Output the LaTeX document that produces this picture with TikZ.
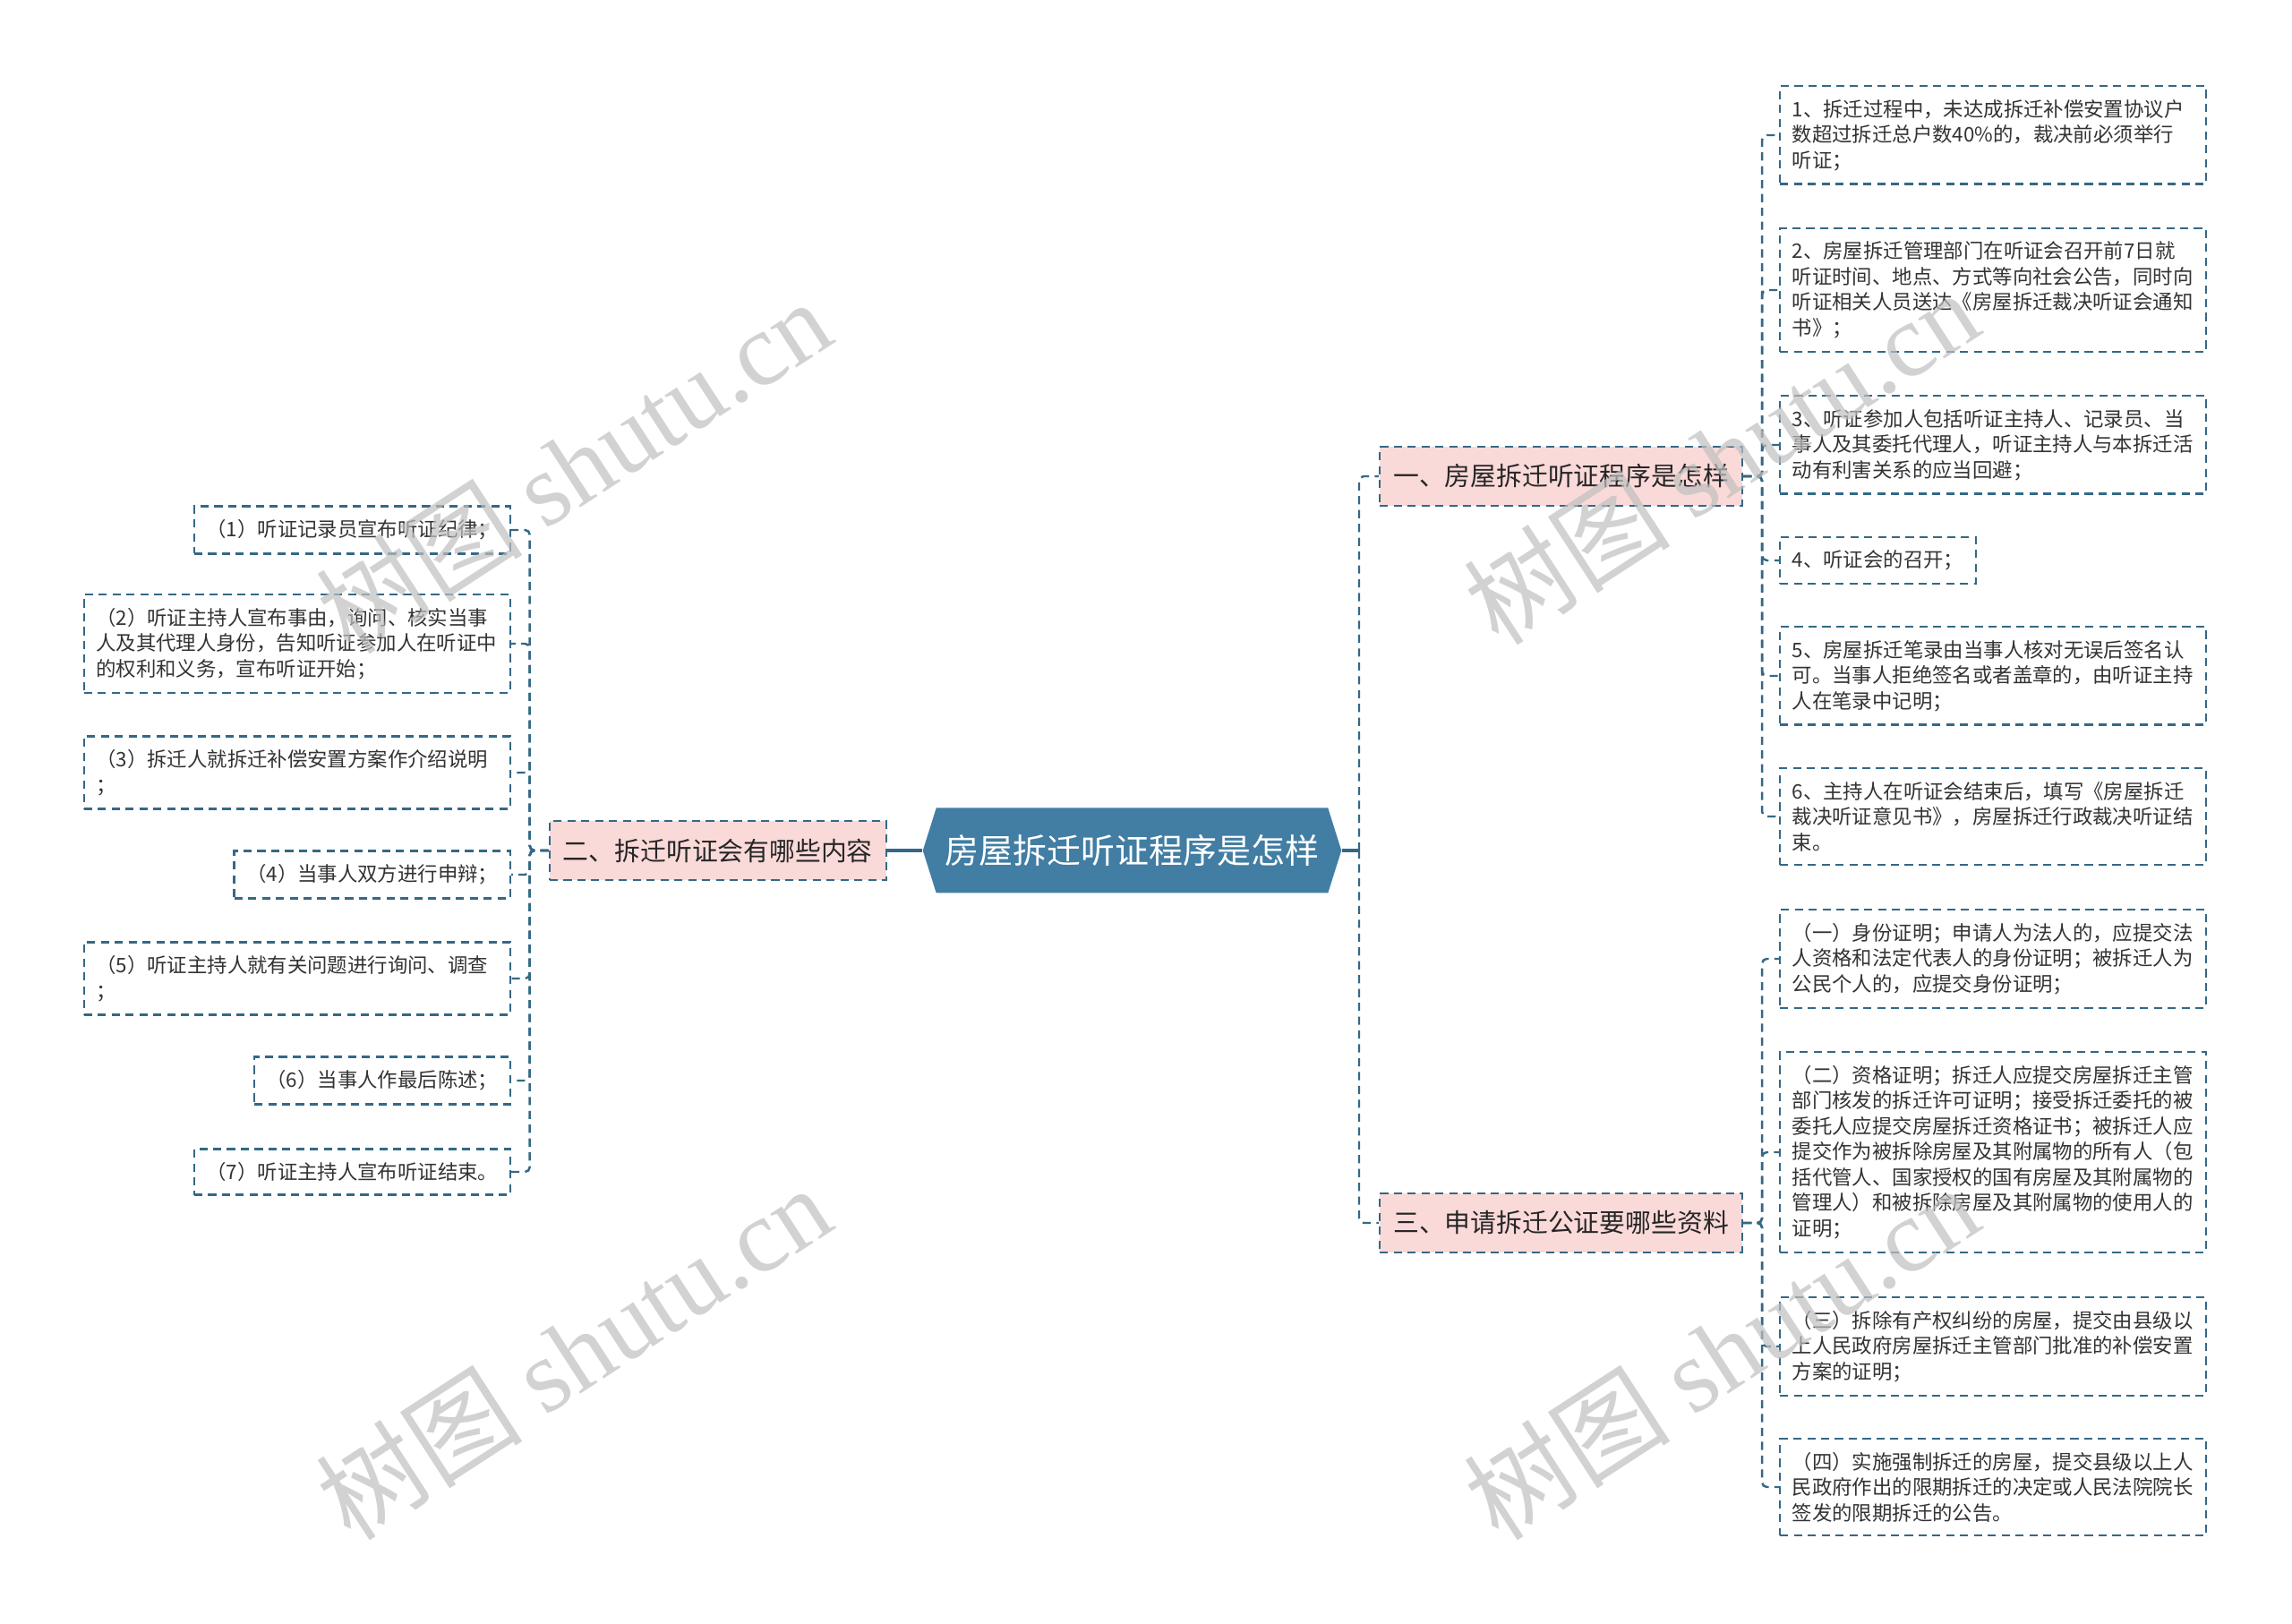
\documentclass[tikz,border=0pt]{standalone}
\usepackage{xcolor}
\usepackage{fontspec}
\setmainfont{Noto Sans CJK SC}
\newfontfamily\wmfont{Liberation Serif}
\usepackage{tikz}
\usetikzlibrary{positioning,shapes.symbols}

\definecolor{rootblue}{RGB}{66,126,163}
\definecolor{linkblue}{RGB}{52,104,134}
\definecolor{topicpink}{RGB}{250,218,217}
\definecolor{leaftext}{RGB}{51,51,51}

\begin{document}
\begin{tikzpicture}[
  rootbox/.style={signal, signal to=west and east, signal pointer angle=145,
                  fill=rootblue, text=white, minimum height=0.95cm,
                  minimum width=4.65cm, inner xsep=0.1cm,
                  font=\fontsize{10.8pt}{13pt}\selectfont},
  topic/.style={draw=linkblue, line width=0.7pt, dash pattern=on 2.6pt off 1.8pt,
                fill=topicpink, text=black!85, minimum height=0.66cm,
                inner xsep=0.15cm, font=\fontsize{8.2pt}{10pt}\selectfont},
  leaf/.style={draw=linkblue, line width=0.7pt, dash pattern=on 2.6pt off 1.8pt,
               fill=white, text=leaftext, align=left, inner xsep=0.135cm,
               inner ysep=0.15cm, font=\fontsize{6.37pt}{8.1pt}\selectfont},
  wideleaf/.style={leaf, text width=4.49cm},
  link/.style={draw=linkblue, line width=0.7pt, dash pattern=on 2.6pt off 1.8pt,
               rounded corners=1.5pt},
  trunk/.style={draw=linkblue, line width=1.2pt},
  wmark/.style={text=black!25, text opacity=0.7, rotate=33,
                font=\fontsize{33pt}{33pt}\selectfont}
]
\useasboundingbox (0,0) rectangle (25.6,-18.14);

% ---- Column positions ----
\def\xL{5.71}    % left leaves (east edge)
\def\xT{9.91}    % left topic (east edge)
\def\xC{12.645}  % root
\def\xU{15.40}   % right topics (west edge)
\def\xR{19.87}   % right leaves (west edge)

% ---- Root ----
\node[rootbox] (root) at (\xC,-9.50) {房屋拆迁听证程序是怎样};

% ---- Topics ----
\node[topic, anchor=east] (t2) at (\xT,-9.50) {二、拆迁听证会有哪些内容};
\node[topic, anchor=west] (t1) at (\xU,-5.32) {一、房屋拆迁听证程序是怎样};
\node[topic, anchor=west] (t3) at (\xU,-13.66) {三、申请拆迁公证要哪些资料};

% ---- Right leaves: hearing procedure ----
\node[wideleaf, anchor=west] (r1) at (\xR,-1.51)
  {1、拆迁过程中，未达成拆迁补偿安置协议户\\数超过拆迁总户数40\%的，裁决前必须举行\\听证；};
\node[wideleaf, anchor=west] (r2) at (\xR,-3.24)
  {2、房屋拆迁管理部门在听证会召开前7日就\\听证时间、地点、方式等向社会公告，同时向\\听证相关人员送达《房屋拆迁裁决听证会通知\\书》；};
\node[wideleaf, anchor=west] (r3) at (\xR,-4.97)
  {3、听证参加人包括听证主持人、记录员、当\\事人及其委托代理人，听证主持人与本拆迁活\\动有利害关系的应当回避；};
\node[leaf, anchor=west] (r4) at (\xR,-6.26) {4、听证会的召开；};
\node[wideleaf, anchor=west] (r5) at (\xR,-7.55)
  {5、房屋拆迁笔录由当事人核对无误后签名认\\可。当事人拒绝签名或者盖章的，由听证主持\\人在笔录中记明；};
\node[wideleaf, anchor=west] (r6) at (\xR,-9.12)
  {6、主持人在听证会结束后，填写《房屋拆迁\\裁决听证意见书》，房屋拆迁行政裁决听证结\\束。};

% ---- Right leaves: documents ----
\node[wideleaf, anchor=west] (s1) at (\xR,-10.71)
  {（一）身份证明；申请人为法人的，应提交法\\人资格和法定代表人的身份证明；被拆迁人为\\公民个人的，应提交身份证明；};
\node[wideleaf, anchor=west] (s2) at (\xR,-12.87)
  {（二）资格证明；拆迁人应提交房屋拆迁主管\\部门核发的拆迁许可证明；接受拆迁委托的被\\委托人应提交房屋拆迁资格证书；被拆迁人应\\提交作为被拆除房屋及其附属物的所有人（包\\括代管人、国家授权的国有房屋及其附属物的\\管理人）和被拆除房屋及其附属物的使用人的\\证明；};
\node[wideleaf, anchor=west] (s3) at (\xR,-15.04)
  {（三）拆除有产权纠纷的房屋，提交由县级以\\上人民政府房屋拆迁主管部门批准的补偿安置\\方案的证明；};
\node[wideleaf, anchor=west] (s4) at (\xR,-16.61)
  {（四）实施强制拆迁的房屋，提交县级以上人\\民政府作出的限期拆迁的决定或人民法院院长\\签发的限期拆迁的公告。};

% ---- Left leaves: hearing contents ----
\node[leaf, anchor=east, minimum width=3.52cm] (l1) at (\xL,-5.92) {（1）听证记录员宣布听证纪律；};
\node[wideleaf, anchor=east] (l2) at (\xL,-7.19)
  {（2）听证主持人宣布事由，询问、核实当事\\人及其代理人身份，告知听证参加人在听证中\\的权利和义务，宣布听证开始；};
\node[wideleaf, anchor=east] (l3) at (\xL,-8.63)
  {（3）拆迁人就拆迁补偿安置方案作介绍说明\\；};
\node[leaf, anchor=east] (l4) at (\xL,-9.77) {（4）当事人双方进行申辩；};
\node[wideleaf, anchor=east] (l5) at (\xL,-10.93)
  {（5）听证主持人就有关问题进行询问、调查\\；};
\node[leaf, anchor=east] (l6) at (\xL,-12.07) {（6）当事人作最后陈述；};
\node[leaf, anchor=east, minimum width=3.52cm] (l7) at (\xL,-13.09) {（7）听证主持人宣布听证结束。};

% ---- Connectors ----
\coordinate (jR) at (15.18,-9.50);
\draw[trunk] (root.west) -- (t2.east);
\draw[trunk] (root.east) -- (jR);
\draw[link] (jR) |- (t1.west);
\draw[link] (jR) |- (t3.west);
\foreach \n in {r1,r2,r3,r4,r5,r6}{
  \draw[link] (t1.east) -- ++(0.21,0) |- (\n.west);
}
\foreach \n in {s1,s2,s3,s4}{
  \draw[link] (t3.east) -- ++(0.21,0) |- (\n.west);
}
\foreach \n in {l1,l2,l3,l4,l5,l6,l7}{
  \draw[link] (t2.west) -- ++(-0.21,0) |- (\n.east);
}

% ---- Watermarks ----
\node[wmark] (wm1) at (6.40,-5.20) {树图 {\wmfont shutu.cn}};
\node[wmark] (wm2) at (6.40,-15.10) {树图 {\wmfont shutu.cn}};
\node[wmark] (wm3) at (19.22,-5.10) {树图 {\wmfont shutu.cn}};
\node[wmark] (wm4) at (19.22,-15.10) {树图 {\wmfont shutu.cn}};

\end{tikzpicture}
\end{document}
